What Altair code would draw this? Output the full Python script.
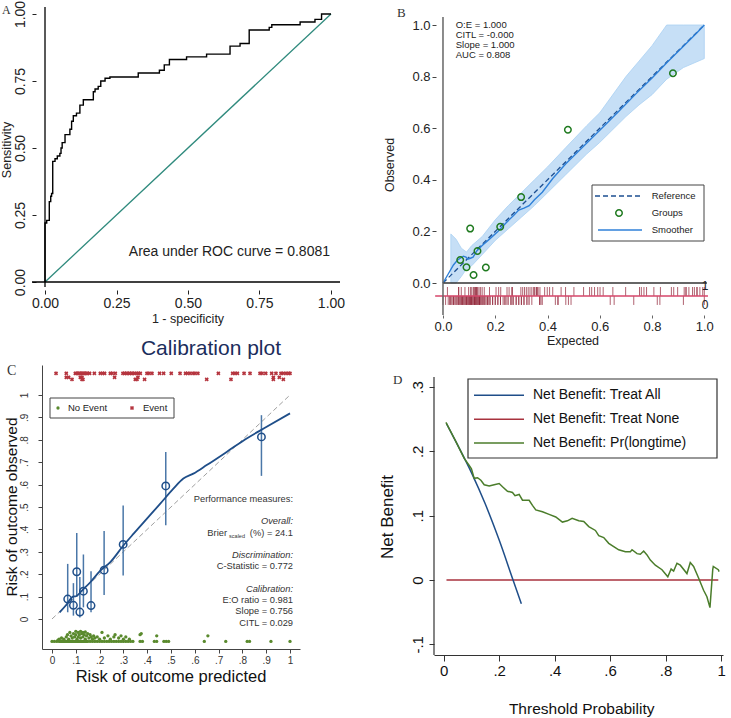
import altair as alt
import pandas as pd

FONT = "Liberation Sans"
SERIF = "Liberation Serif"

# ---------------- data ----------------
# Panel A: ROC curve (1-specificity, sensitivity) corners
roc_fpr = [0.0, 0.0, 0.006, 0.015, 0.02, 0.023, 0.027, 0.035, 0.043, 0.052, 0.056, 0.06, 0.07,
           0.087, 0.093, 0.099, 0.11, 0.122, 0.134, 0.169, 0.175, 0.186, 0.195, 0.21, 0.227,
           0.326, 0.40, 0.417, 0.435, 0.495, 0.565, 0.647, 0.682, 0.714, 0.784, 0.793, 0.892,
           0.944, 0.967, 1.0]
roc_tpr = [0.0, 0.22, 0.23, 0.30, 0.32, 0.33, 0.45, 0.46, 0.47, 0.48, 0.50, 0.52, 0.55,
           0.57, 0.60, 0.62, 0.63, 0.66, 0.68, 0.71, 0.72, 0.73, 0.75, 0.76, 0.765,
           0.78, 0.79, 0.81, 0.83, 0.84, 0.85, 0.88, 0.89, 0.94, 0.95, 0.96, 0.97,
           0.98, 1.0, 1.0]

# Grouped calibration points (expected, observed) and 95% CI
grp_exp = [0.066, 0.090, 0.104, 0.117, 0.132, 0.164, 0.219, 0.299, 0.478, 0.880]
grp_obs = [0.089, 0.061, 0.211, 0.031, 0.124, 0.060, 0.218, 0.333, 0.594, 0.813]
grp_lo = [0.030, 0.015, 0.100, 0.007, 0.052, 0.030, 0.107, 0.194, 0.418, 0.639]
grp_hi = [0.246, 0.160, 0.384, 0.187, 0.288, 0.213, 0.393, 0.507, 0.746, 0.910]

# Panel B smoother and confidence band
smB_x = [0.0, 0.02, 0.04, 0.055, 0.066, 0.078, 0.088, 0.095, 0.105, 0.115, 0.13, 0.15, 0.18,
         0.21, 0.24, 0.27, 0.29, 0.31, 0.33, 0.35, 0.38, 0.42, 0.47, 0.53, 0.6, 0.67, 0.74,
         0.8, 0.86, 0.92, 0.97, 1.0]
smB_y = [0.0, 0.035, 0.07, 0.088, 0.096, 0.104, 0.10, 0.092, 0.096, 0.10, 0.125, 0.145, 0.172,
         0.20, 0.232, 0.262, 0.283, 0.29, 0.30, 0.323, 0.352, 0.405, 0.462, 0.522, 0.592, 0.663,
         0.735, 0.795, 0.858, 0.918, 0.968, 1.0]
band_x = [0.03, 0.05, 0.07, 0.09, 0.11, 0.15, 0.2, 0.25, 0.3, 0.35, 0.4, 0.47, 0.55, 0.6,
          0.7, 0.75, 0.8, 0.856, 0.92, 1.0]
band_lo = [0.0, 0.0, 0.025, 0.055, 0.067, 0.11, 0.165, 0.21, 0.255, 0.30, 0.35, 0.42, 0.50,
           0.545, 0.645, 0.69, 0.73, 0.79, 0.835, 0.87]
band_hi = [0.19, 0.17, 0.135, 0.12, 0.145, 0.18, 0.245, 0.30, 0.35, 0.40, 0.45, 0.525, 0.61,
           0.66, 0.80, 0.86, 0.92, 1.0, 1.0, 1.0]

# Individual predictions: events (y level in panel C) and non-events
ev_pred = [0.017, 0.060, 0.098, 0.105, 0.110, 0.116, 0.122, 0.127, 0.133, 0.138, 0.144, 0.150,
           0.158, 0.178, 0.203, 0.213, 0.221, 0.245, 0.253, 0.266, 0.298, 0.305, 0.312, 0.319,
           0.326, 0.333, 0.340, 0.347, 0.357, 0.364, 0.371, 0.399, 0.408, 0.420, 0.452, 0.469,
           0.501, 0.538, 0.561, 0.569, 0.580, 0.592, 0.601, 0.613, 0.699, 0.759, 0.769, 0.779,
           0.807, 0.832, 0.874, 0.883, 0.898, 0.923, 0.941, 0.962, 0.972, 0.983, 0.994, 1.0,
           0.060, 0.070, 0.119, 0.126, 0.263, 0.361, 0.930, 0.955,
           0.084, 0.126, 0.130, 0.350, 0.357, 0.389, 0.650, 0.752, 0.930, 0.972]
ev_y = [1.097] * 60 + [1.079] * 8 + [1.070] * 10

ne_pred = [0.0, 0.01, 0.02, 0.03, 0.035, 0.04, 0.045, 0.05, 0.055, 0.06, 0.065, 0.07, 0.075,
           0.08, 0.085, 0.09, 0.095, 0.10, 0.105, 0.11, 0.115, 0.12, 0.125, 0.13, 0.135, 0.14,
           0.145, 0.15, 0.16, 0.17, 0.18, 0.19, 0.20, 0.21, 0.22, 0.23, 0.24, 0.25, 0.26, 0.27,
           0.28, 0.29, 0.30, 0.31, 0.32, 0.33, 0.34, 0.37, 0.38, 0.43, 0.44, 0.47, 0.48, 0.49,
           0.64, 0.73, 0.82, 0.83, 0.92, 1.0,
           0.05, 0.06, 0.065, 0.07, 0.075, 0.08, 0.085, 0.09, 0.095, 0.10, 0.10, 0.105, 0.11,
           0.11, 0.115, 0.12, 0.12, 0.125, 0.13, 0.13, 0.135, 0.14, 0.14, 0.145, 0.15, 0.155,
           0.16, 0.165, 0.17, 0.175, 0.18, 0.19, 0.20, 0.21, 0.22, 0.235, 0.245, 0.26, 0.265,
           0.28, 0.29, 0.30, 0.31, 0.325, 0.37, 0.375, 0.44, 0.655, 0.03, 0.04, 0.025]
ne_y = [-0.1] * 60 + [
    -0.09, -0.08, -0.07, -0.09, -0.06, -0.075, -0.085, -0.065, -0.08, -0.055, -0.07, -0.09,
    -0.06, -0.08, -0.07, -0.055, -0.085, -0.065, -0.06, -0.08, -0.07, -0.058, -0.09, -0.075,
    -0.065, -0.085, -0.07, -0.08, -0.09, -0.075, -0.085, -0.08, -0.09, -0.06, -0.085, -0.075,
    -0.09, -0.08, -0.07, -0.085, -0.075, -0.09, -0.08, -0.09, -0.07, -0.065, -0.075, -0.075,
    -0.09, -0.085, -0.095]

# Panel C smoother
smC_x = [0.032, 0.063, 0.084, 0.105, 0.126, 0.161, 0.203, 0.245, 0.30, 0.343, 0.399, 0.455,
         0.51, 0.552, 0.594, 0.65, 0.734, 0.818, 0.902, 1.0]
smC_y = [0.03, 0.067, 0.097, 0.104, 0.127, 0.164, 0.216, 0.254, 0.328, 0.381, 0.448, 0.515,
         0.582, 0.627, 0.649, 0.687, 0.746, 0.806, 0.858, 0.918]

# Panel D decision curve
all_pt = [0.01, 0.05, 0.10, 0.15, 0.20, 0.25, 0.28]
all_nb = [0.243, 0.21, 0.167, 0.118, 0.062, 0.0, -0.037]
none_pt = [0.01, 0.99]
none_nb = [0.0, 0.0]
mod_pt = [0.008, 0.044, 0.074, 0.092, 0.10, 0.11, 0.122, 0.134, 0.146, 0.164, 0.182, 0.20,
          0.212, 0.23, 0.248, 0.257, 0.272, 0.284, 0.308, 0.32, 0.332, 0.356, 0.38, 0.404,
          0.428, 0.446, 0.463, 0.487, 0.505, 0.523, 0.547, 0.559, 0.577, 0.595, 0.613, 0.631,
          0.655, 0.673, 0.679, 0.697, 0.709, 0.721, 0.733, 0.745, 0.763, 0.787, 0.808, 0.82,
          0.829, 0.841, 0.853, 0.877, 0.889, 0.901, 0.919, 0.937, 0.949, 0.96, 0.97, 0.972,
          0.99, 0.993]
mod_nb = [0.245, 0.215, 0.189, 0.178, 0.173, 0.158, 0.159, 0.155, 0.148, 0.146, 0.148, 0.15,
          0.145, 0.138, 0.136, 0.131, 0.133, 0.124, 0.124, 0.116, 0.109, 0.106, 0.102, 0.098,
          0.09, 0.092, 0.096, 0.092, 0.091, 0.083, 0.077, 0.069, 0.066, 0.057, 0.052, 0.047,
          0.044, 0.044, 0.047, 0.041, 0.04, 0.045, 0.039, 0.031, 0.023, 0.016, 0.005, 0.017,
          0.014, 0.026, 0.023, 0.010, 0.027, 0.021, 0.003, -0.016, -0.026, -0.043, 0.016, 0.021,
          0.016, 0.013]

one = pd.DataFrame({"a": [0]})


# ---------------- helpers ----------------
def label(text, x, y, size=12, align="center", baseline="middle", angle=None, color="#222",
          font=FONT, style=None):
    kw = dict(text=text, fontSize=size, align=align, baseline=baseline, color=color, font=font)
    if angle is not None:
        kw["angle"] = angle
    if style:
        kw["fontStyle"] = style
    return alt.Chart(one).mark_text(**kw).encode(x=alt.value(x), y=alt.value(y))


def box(x1, x2, y1, y2, stroke="#333", sw=1.0, fill="white"):
    return alt.Chart(one).mark_rect(fill=fill, stroke=stroke, strokeWidth=sw).encode(
        x=alt.value(x1), x2=alt.value(x2), y=alt.value(y1), y2=alt.value(y2))


def seg(x1, x2, y, color, sw=1.5, dash=None):
    kw = dict(color=color, strokeWidth=sw)
    if dash:
        kw["strokeDash"] = dash
    return alt.Chart(one).mark_rule(**kw).encode(
        x=alt.value(x1), x2=alt.value(x2), y=alt.value(y), y2=alt.value(y))


def sym(x, y, color, shape="circle", size=40, filled=False, sw=1.5, angle=None):
    kw = dict(shape=shape, size=size, filled=filled, color=color, strokeWidth=sw, opacity=1)
    if angle is not None:
        kw["angle"] = angle
    return alt.Chart(one).mark_point(**kw).encode(x=alt.value(x), y=alt.value(y))


class Panel:
    def __init__(self, xs, ys, ax, ay):
        self.xs, self.ys, self.ax, self.ay = xs, ys, ax, ay

    def X(self, f):
        return alt.X(f, scale=self.xs, axis=self.ax, title=None)

    def Y(self, f):
        return alt.Y(f, scale=self.ys, axis=self.ay, title=None)

    def rule(self, x1, x2, y1, y2, **mark):
        df = pd.DataFrame({"x1": [x1], "x2": [x2], "y1": [y1], "y2": [y2]})
        return alt.Chart(df).mark_rule(**mark).encode(
            x=self.X("x1:Q"), x2="x2:Q", y=self.Y("y1:Q"), y2="y2:Q")


# ---------------- Panel A ----------------
ticksA = [0, 0.25, 0.5, 0.75, 1.0]
PA = Panel(
    alt.Scale(domain=[-0.0105, 1.0315], nice=False, zero=False),
    alt.Scale(domain=[0, 1.026], nice=False, zero=False),
    alt.Axis(values=ticksA, format=".2f", title=None, domain=False, grid=False, offset=8,
             tickSize=4, labelPadding=2, labelFontSize=14, labelColor="#222", tickColor="#222",
             labelFlush=False),
    alt.Axis(values=ticksA, format=".2f", title=None, domain=False, grid=False, offset=6,
             tickSize=4, labelPadding=5, labelFontSize=14, labelAngle=270, labelAlign="center",
             labelBaseline="bottom", labelColor="#222", tickColor="#222", labelFlush=False))

roc_df = pd.DataFrame({"i": list(range(len(roc_fpr))), "fpr": roc_fpr, "tpr": roc_tpr})
rocA = alt.Chart(roc_df).mark_line(interpolate="step-after", color="black", strokeWidth=1.4).encode(
    x=PA.X("fpr:Q"), y=PA.Y("tpr:Q"), order="i:Q")

panelA = alt.layer(
    box(-42, -41, -5, -4, stroke="white", sw=0),
    PA.rule(0, 1, 0, 1, color="#2f8a7d", strokeWidth=1.3),
    rocA,
    PA.rule(-0.0455, 1.0315, 0, 0, color="black", strokeWidth=1.3),
    PA.rule(0, 0, -0.019, 1.026, color="black", strokeWidth=1.3),
    label("Area under ROC curve = 0.8081", 288, 245, size=14, align="right"),
    label("Sensitivity", -35, 143, size=12.5, angle=270),
    label("1 - specificity", 146, 312, size=12.5),
    label("A", -40, -2, size=12, align="left", baseline="top", font=SERIF, color="#333"),
).properties(width=298, height=275)

# ---------------- Panel B ----------------
ticksB = [0, 0.2, 0.4, 0.6, 0.8, 1.0]
PB = Panel(
    alt.Scale(domain=[-0.0344, 1.0103], nice=False, zero=False),
    alt.Scale(domain=[-0.124, 1.0698], nice=False, zero=False),
    alt.Axis(values=ticksB, format=".1f", title=None, domain=False, grid=False, offset=0,
             tickSize=3, labelPadding=2, labelFontSize=13, labelColor="#222", tickColor="#666",
             labelFlush=False),
    alt.Axis(values=ticksB, format=".1f", title=None, domain=False, grid=False, offset=-2,
             tickSize=4, labelPadding=2, labelFontSize=13, labelColor="#222", tickColor="#444",
             labelFlush=False))

band_df = pd.DataFrame({"x": band_x, "lo": band_lo, "hi": band_hi})
bandB = alt.Chart(band_df).mark_area(color="#c6dff6", opacity=1,
                                     stroke="#a9d0f2", strokeWidth=0.8).encode(
    x=PB.X("x:Q"), y=PB.Y("lo:Q"), y2="hi:Q")
smB_df = pd.DataFrame({"x": smB_x, "y": smB_y})
smoothB = alt.Chart(smB_df).mark_line(color="#2f80d8", strokeWidth=1.4).encode(
    x=PB.X("x:Q"), y=PB.Y("y:Q"))
grp_df = pd.DataFrame({"x": grp_exp, "y": grp_obs, "lo": grp_lo, "hi": grp_hi})
groupsB = alt.Chart(grp_df).mark_point(shape="circle", filled=False, color="#1f7a1f",
                                       strokeWidth=1.5, size=42, opacity=1).encode(
    x=PB.X("x:Q"), y=PB.Y("y:Q"))
ev_rug = pd.DataFrame({"x": ev_pred, "y1": -0.0155, "y2": -0.05})
ne_rug = pd.DataFrame({"x": ne_pred, "y1": -0.05, "y2": -0.085})
rugEv = alt.Chart(ev_rug).mark_rule(color="#8e1f33", strokeWidth=1, opacity=0.7).encode(
    x=PB.X("x:Q"), y=PB.Y("y1:Q"), y2="y2:Q")
rugNe = alt.Chart(ne_rug).mark_rule(color="#8e1f33", strokeWidth=1, opacity=0.7).encode(
    x=PB.X("x:Q"), y=PB.Y("y1:Q"), y2="y2:Q")

panelB = alt.layer(
    bandB,
    PB.rule(0, 1, 0, 1, color="#1d4f91", strokeWidth=1.3, strokeDash=[5, 3]),
    smoothB,
    groupsB,
    rugEv, rugNe,
    PB.rule(-0.03, 1.014, -0.05, -0.05, color="#d6466a", strokeWidth=1.5),
    PB.rule(0, 1.01, 0, 0, color="#333", strokeWidth=1.3),
    PB.rule(0, 0, -0.124, 1.031, color="#666", strokeWidth=1.5),
    label("O:E = 1.000", 21.7, 18, size=9.5, align="left"),
    label("CITL = -0.000", 21.7, 28, size=9.5, align="left"),
    label("Slope = 1.000", 21.7, 38, size=9.5, align="left"),
    label("AUC = 0.808", 21.7, 48, size=9.5, align="left"),
    box(158, 270, 178, 234, stroke="#444", sw=1),
    seg(161, 208, 189, "#1d4f91", sw=1.3, dash=[5, 3]),
    sym(185, 206, "#1f7a1f", size=42),
    seg(164, 208, 223, "#2f80d8", sw=1.4),
    label("Reference", 217.7, 189, size=9.5, align="left"),
    label("Groups", 217.7, 206, size=9.5, align="left"),
    label("Smoother", 217.7, 223, size=9.5, align="left"),
    label("1", 271, 279, size=12),
    label("0", 271, 298, size=12),
    label("Observed", -44, 158, size=12.5, angle=270),
    label("Expected", 139, 334, size=12.5),
    label("B", -37, 0, size=13, align="left", baseline="top", font=SERIF, color="#333"),
).properties(width=273, height=308)

# ---------------- Panel C ----------------
ticksC = [0, 0.1, 0.2, 0.3, 0.4, 0.5, 0.6, 0.7, 0.8, 0.9, 1.0]
lblC = "datum.value == 0 ? '0' : (datum.value >= 0.999 ? '1' : '.' + round(datum.value * 10))"
PC = Panel(
    alt.Scale(domain=[-0.042, 1.042], nice=False, zero=False),
    alt.Scale(domain=[-0.134, 1.134], nice=False, zero=False),
    alt.Axis(values=ticksC, labelExpr=lblC, title=None, domain=True, domainColor="#444",
             grid=False, tickSize=4, labelPadding=2, labelFontSize=10, labelColor="#333",
             tickColor="#444", labelFlush=False),
    alt.Axis(values=ticksC, labelExpr=lblC, title=None, domain=True, domainColor="#444",
             grid=False, tickSize=4, labelPadding=9, labelFontSize=10, labelColor="#333",
             tickColor="#444", labelAngle=270, labelAlign="center", labelBaseline="bottom",
             labelFlush=False))

diagC = alt.Chart(pd.DataFrame({"x": [0, 1], "y": [0, 1]})).mark_line(
    color="#a0a0a0", strokeWidth=1, strokeDash=[5, 3]).encode(x=PC.X("x:Q"), y=PC.Y("y:Q"))
barsC = alt.Chart(grp_df).mark_rule(color="#4a77a8", strokeWidth=1.5).encode(
    x=PC.X("x:Q"), y=PC.Y("lo:Q"), y2="hi:Q")
smC_df = pd.DataFrame({"x": smC_x, "y": smC_y})
smoothC = alt.Chart(smC_df).mark_line(color="#1f4e89", strokeWidth=1.8,
                                      interpolate="monotone").encode(x=PC.X("x:Q"), y=PC.Y("y:Q"))
ptsC = alt.Chart(grp_df).mark_point(shape="circle", filled=False, color="#1f4e89",
                                    strokeWidth=1.5, size=55, opacity=1).encode(
    x=PC.X("x:Q"), y=PC.Y("y:Q"))
ev_df = pd.DataFrame({"x": ev_pred, "y": ev_y})
evC = alt.Chart(ev_df).mark_point(shape="cross", angle=45, filled=True, color="#b5353f",
                                  size=18, opacity=1).encode(x=PC.X("x:Q"), y=PC.Y("y:Q"))
ne_df = pd.DataFrame({"x": ne_pred, "y": ne_y})
neC = alt.Chart(ne_df).mark_point(shape="circle", filled=True, color="#5a8a2e",
                                  size=11, opacity=1).encode(x=PC.X("x:Q"), y=PC.Y("y:Q"))

panelC = alt.layer(
    diagC, barsC, smoothC, ptsC, neC, evC,
    box(8, 132, 33, 53, stroke="#444", sw=1),
    sym(16, 43, "#5a8a2e", size=11, filled=True),
    label("No Event", 26, 43, size=9.5, align="left"),
    sym(90, 43, "#b5353f", shape="cross", size=18, filled=True, angle=45),
    label("Event", 101, 43, size=9.5, align="left"),
    label("Performance measures:", 251, 134, size=9.3, align="right", color="#333"),
    label("Overall:", 251, 156, size=9.3, align="right", color="#333", style="italic"),
    label("(%) =  24.1", 251, 168, size=9.3, align="right", color="#333"),
    label("scaled", 203, 170.5, size=5.5, align="right", color="#333"),
    label("Brier", 185, 168, size=9.3, align="right", color="#333"),
    label("Discrimination:", 251, 190, size=9.3, align="right", color="#333", style="italic"),
    label("C-Statistic = 0.772", 251, 201, size=9.3, align="right", color="#333"),
    label("Calibration:", 251, 224, size=9.3, align="right", color="#333", style="italic"),
    label("E:O ratio = 0.981", 251, 235, size=9.3, align="right", color="#333"),
    label("Slope = 0.756", 251, 246, size=9.3, align="right", color="#333"),
    label("CITL = 0.029", 251, 258, size=9.3, align="right", color="#333"),
    label("Calibration plot", 169, -16, size=21, color="#1b2d5c"),
    label("Risk of outcome predicted", 129, 312, size=16.5, color="#111"),
    label("Risk of outcome observed", -30, 142, size=15.5, angle=270, color="#111"),
    label("C", -35, -1, size=14, align="left", baseline="top", font=SERIF, color="#333"),
).properties(width=258, height=284)

# ---------------- Panel D ----------------
ticksDx = [0, 0.2, 0.4, 0.6, 0.8, 1.0]
ticksDy = [-0.1, 0, 0.1, 0.2, 0.3]
lblDx = "datum.value == 0 ? '0' : (datum.value >= 0.999 ? '1' : '.' + round(datum.value * 10))"
lblDy = ("abs(datum.value) < 0.001 ? '0' : (datum.value < 0 ? '-.' : '.') + "
         "round(abs(datum.value) * 10)")
PD = Panel(
    alt.Scale(domain=[-0.035, 1.007], nice=False, zero=False),
    alt.Scale(domain=[-0.1166, 0.3342], nice=False, zero=False),
    alt.Axis(values=ticksDx, labelExpr=lblDx, title=None, domain=True, domainColor="#333",
             grid=False, tickSize=6, labelPadding=2, labelFontSize=15, labelColor="#111",
             tickColor="#333", labelFlush=False),
    alt.Axis(values=ticksDy, labelExpr=lblDy, title=None, domain=False, grid=False, tickSize=5,
             labelPadding=4, labelFontSize=15, labelColor="#111", tickColor="#333",
             labelAngle=270, labelAlign="center", labelBaseline="bottom", labelFlush=False))

none_df = pd.DataFrame({"x": none_pt, "y": none_nb})
noneD = alt.Chart(none_df).mark_line(color="#a8323e", strokeWidth=1.6).encode(
    x=PD.X("x:Q"), y=PD.Y("y:Q"))
all_df = pd.DataFrame({"x": all_pt, "y": all_nb})
allD = alt.Chart(all_df).mark_line(color="#1f4e89", strokeWidth=1.5,
                                   interpolate="monotone").encode(x=PD.X("x:Q"), y=PD.Y("y:Q"))
mod_df = pd.DataFrame({"x": mod_pt, "y": mod_nb})
modD = alt.Chart(mod_df).mark_line(color="#4b7d2b", strokeWidth=1.5).encode(
    x=PD.X("x:Q"), y=PD.Y("y:Q"))

panelD = alt.layer(
    noneD, allD, modD,
    PD.rule(-0.035, -0.035, -0.1166, 0.3155, color="#333", strokeWidth=1.2),
    box(34, 283, 14, 93, stroke="#333", sw=1.2),
    seg(40, 90, 30.3, "#1f4e89", sw=1.6),
    seg(40, 90, 54.3, "#a8323e", sw=1.6),
    seg(40, 90, 78, "#4b7d2b", sw=1.6),
    label("Net Benefit: Treat All", 99, 30.3, size=14, align="left", color="#111"),
    label("Net Benefit: Treat None", 99, 54.3, size=14, align="left", color="#111"),
    label("Net Benefit: Pr(longtime)", 99, 78, size=14, align="left", color="#111"),
    label("Net Benefit", -46, 152, size=17, angle=270, color="#111"),
    label("Threshold Probability", 147.7, 343.7, size=15.5, color="#111"),
    label("D", -41, 9, size=13, align="left", baseline="top", font=SERIF, color="#333"),
).properties(width=289, height=290)

chart = alt.concat(
    panelA, panelB, panelC, panelD, columns=2, spacing={"row": 50, "column": 94}
).properties(bounds="flush", padding=0).configure(font=FONT).configure_view(stroke=None)

chart.save("out.html", embed_options={"renderer": "svg", "actions": False})
